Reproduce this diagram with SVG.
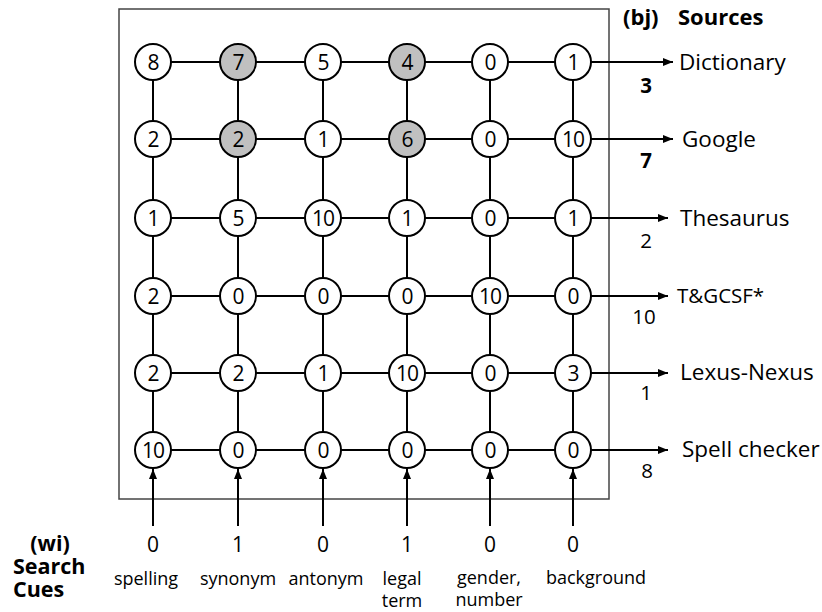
<svg xmlns="http://www.w3.org/2000/svg" width="822" height="612" viewBox="0 0 822 612">
<style>
text{font-family:"Open Sans","Liberation Sans",sans-serif;fill:#000}
.n circle{fill:#fff;stroke:#000;stroke-width:2}
.n.g circle{fill:#c0c0c0}
.n text{font-size:21px;text-anchor:middle;letter-spacing:-1px}
.e line{stroke:#000;stroke-width:2}
.lbl{font-size:22.5px}
.w{font-size:21px;text-anchor:middle}
.rw{font-size:20.5px;text-anchor:middle}
.b{font-weight:bold}
.cue{font-size:18px;text-anchor:middle}
.hd{font-size:22px;font-weight:bold}
.sc{font-size:21.5px;font-weight:bold}
</style>
<defs>
<marker id="ah" viewBox="0 0 10 10" refX="10" refY="5" markerWidth="5" markerHeight="5" orient="auto"><path d="M0,1 L10,5 L0,9 z" fill="#000"/></marker>
</defs>
<rect x="119" y="9" width="490" height="490" fill="none" stroke="#444" stroke-width="1.5"/>
<g id="connectors" class="e">
<line x1="153" y1="62" x2="573" y2="62"/>
<line x1="153" y1="139" x2="573" y2="139"/>
<line x1="153" y1="218" x2="573" y2="218"/>
<line x1="153" y1="296" x2="573" y2="296"/>
<line x1="153" y1="373" x2="573" y2="373"/>
<line x1="153" y1="450" x2="573" y2="450"/>
<line x1="153" y1="62" x2="153" y2="450"/>
<line x1="238" y1="62" x2="238" y2="450"/>
<line x1="323" y1="62" x2="323" y2="450"/>
<line x1="407" y1="62" x2="407" y2="450"/>
<line x1="490" y1="62" x2="490" y2="450"/>
<line x1="573" y1="62" x2="573" y2="450"/>
<line x1="591" y1="62" x2="673" y2="62" marker-end="url(#ah)"/>
<line x1="591" y1="139" x2="673" y2="139" marker-end="url(#ah)"/>
<line x1="591" y1="218" x2="668" y2="218" marker-end="url(#ah)"/>
<line x1="591" y1="296" x2="668" y2="296" marker-end="url(#ah)"/>
<line x1="591" y1="373" x2="668" y2="373" marker-end="url(#ah)"/>
<line x1="591" y1="450" x2="668" y2="450" marker-end="url(#ah)"/>
<line x1="153" y1="526" x2="153" y2="469" marker-end="url(#ah)"/>
<line x1="238" y1="526" x2="238" y2="469" marker-end="url(#ah)"/>
<line x1="323" y1="526" x2="323" y2="469" marker-end="url(#ah)"/>
<line x1="407" y1="526" x2="407" y2="469" marker-end="url(#ah)"/>
<line x1="490" y1="526" x2="490" y2="469" marker-end="url(#ah)"/>
<line x1="573" y1="526" x2="573" y2="469" marker-end="url(#ah)"/>
</g>
<g id="r1c1" class="n"><circle cx="153" cy="62" r="18"/><text x="153" y="69.5">8</text></g>
<g id="r1c2" class="n g"><circle cx="238" cy="62" r="18"/><text x="238" y="69.5">7</text></g>
<g id="r1c3" class="n"><circle cx="323" cy="62" r="18"/><text x="323" y="69.5">5</text></g>
<g id="r1c4" class="n g"><circle cx="407" cy="62" r="18"/><text x="407" y="69.5">4</text></g>
<g id="r1c5" class="n"><circle cx="490" cy="62" r="18"/><text x="490" y="69.5">0</text></g>
<g id="r1c6" class="n"><circle cx="573" cy="62" r="18"/><text x="573" y="69.5">1</text></g>
<g id="r2c1" class="n"><circle cx="153" cy="139" r="18"/><text x="153" y="146.5">2</text></g>
<g id="r2c2" class="n g"><circle cx="238" cy="139" r="18"/><text x="238" y="146.5">2</text></g>
<g id="r2c3" class="n"><circle cx="323" cy="139" r="18"/><text x="323" y="146.5">1</text></g>
<g id="r2c4" class="n g"><circle cx="407" cy="139" r="18"/><text x="407" y="146.5">6</text></g>
<g id="r2c5" class="n"><circle cx="490" cy="139" r="18"/><text x="490" y="146.5">0</text></g>
<g id="r2c6" class="n"><circle cx="573" cy="139" r="18"/><text x="573" y="146.5">10</text></g>
<g id="r3c1" class="n"><circle cx="153" cy="218" r="18"/><text x="153" y="225.5">1</text></g>
<g id="r3c2" class="n"><circle cx="238" cy="218" r="18"/><text x="238" y="225.5">5</text></g>
<g id="r3c3" class="n"><circle cx="323" cy="218" r="18"/><text x="323" y="225.5">10</text></g>
<g id="r3c4" class="n"><circle cx="407" cy="218" r="18"/><text x="407" y="225.5">1</text></g>
<g id="r3c5" class="n"><circle cx="490" cy="218" r="18"/><text x="490" y="225.5">0</text></g>
<g id="r3c6" class="n"><circle cx="573" cy="218" r="18"/><text x="573" y="225.5">1</text></g>
<g id="r4c1" class="n"><circle cx="153" cy="296" r="18"/><text x="153" y="303.5">2</text></g>
<g id="r4c2" class="n"><circle cx="238" cy="296" r="18"/><text x="238" y="303.5">0</text></g>
<g id="r4c3" class="n"><circle cx="323" cy="296" r="18"/><text x="323" y="303.5">0</text></g>
<g id="r4c4" class="n"><circle cx="407" cy="296" r="18"/><text x="407" y="303.5">0</text></g>
<g id="r4c5" class="n"><circle cx="490" cy="296" r="18"/><text x="490" y="303.5">10</text></g>
<g id="r4c6" class="n"><circle cx="573" cy="296" r="18"/><text x="573" y="303.5">0</text></g>
<g id="r5c1" class="n"><circle cx="153" cy="373" r="18"/><text x="153" y="380.5">2</text></g>
<g id="r5c2" class="n"><circle cx="238" cy="373" r="18"/><text x="238" y="380.5">2</text></g>
<g id="r5c3" class="n"><circle cx="323" cy="373" r="18"/><text x="323" y="380.5">1</text></g>
<g id="r5c4" class="n"><circle cx="407" cy="373" r="18"/><text x="407" y="380.5">10</text></g>
<g id="r5c5" class="n"><circle cx="490" cy="373" r="18"/><text x="490" y="380.5">0</text></g>
<g id="r5c6" class="n"><circle cx="573" cy="373" r="18"/><text x="573" y="380.5">3</text></g>
<g id="r6c1" class="n"><circle cx="153" cy="450" r="18"/><text x="153" y="457.5">10</text></g>
<g id="r6c2" class="n"><circle cx="238" cy="450" r="18"/><text x="238" y="457.5">0</text></g>
<g id="r6c3" class="n"><circle cx="323" cy="450" r="18"/><text x="323" y="457.5">0</text></g>
<g id="r6c4" class="n"><circle cx="407" cy="450" r="18"/><text x="407" y="457.5">0</text></g>
<g id="r6c5" class="n"><circle cx="490" cy="450" r="18"/><text x="490" y="457.5">0</text></g>
<g id="r6c6" class="n"><circle cx="573" cy="450" r="18"/><text x="573" y="457.5">0</text></g>
<g id="sources">
<text x="623" y="25" class="hd">(bj)</text>
<text x="678" y="25" class="hd">Sources</text>
<text x="679" y="70" class="lbl">Dictionary</text>
<text x="682" y="147" class="lbl">Google</text>
<text x="680" y="226" class="lbl">Thesaurus</text>
<text x="677" y="303" font-size="20.5">T&amp;GCSF*</text>
<text x="680" y="380" class="lbl">Lexus-Nexus</text>
<text x="682" y="457" class="lbl">Spell checker</text>
<text x="646" y="93" class="rw b">3</text>
<text x="646" y="168" class="rw b">7</text>
<text x="646" y="248" class="rw">2</text>
<text x="644" y="324" class="rw">10</text>
<text x="646" y="400" class="rw">1</text>
<text x="647" y="478" class="rw">8</text>
</g>
<g id="cues">
<text x="50" y="551" class="sc" text-anchor="middle">(wi)</text>
<text x="13" y="574" class="sc">Search</text>
<text x="13" y="597" class="sc">Cues</text>
<text x="153" y="552" class="w">0</text>
<text x="238" y="552" class="w">1</text>
<text x="323" y="552" class="w">0</text>
<text x="407" y="552" class="w">1</text>
<text x="490" y="552" class="w">0</text>
<text x="573" y="552" class="w">0</text>
<text x="146" y="585" class="cue">spelling</text>
<text x="238" y="585" class="cue">synonym</text>
<text x="326" y="585" class="cue">antonym</text>
<text x="402" y="585" class="cue">legal</text>
<text x="402" y="607" class="cue">term</text>
<text x="489" y="584" class="cue">gender,</text>
<text x="489" y="606" class="cue">number</text>
<text x="596" y="584" class="cue">background</text>
</g>
</svg>
